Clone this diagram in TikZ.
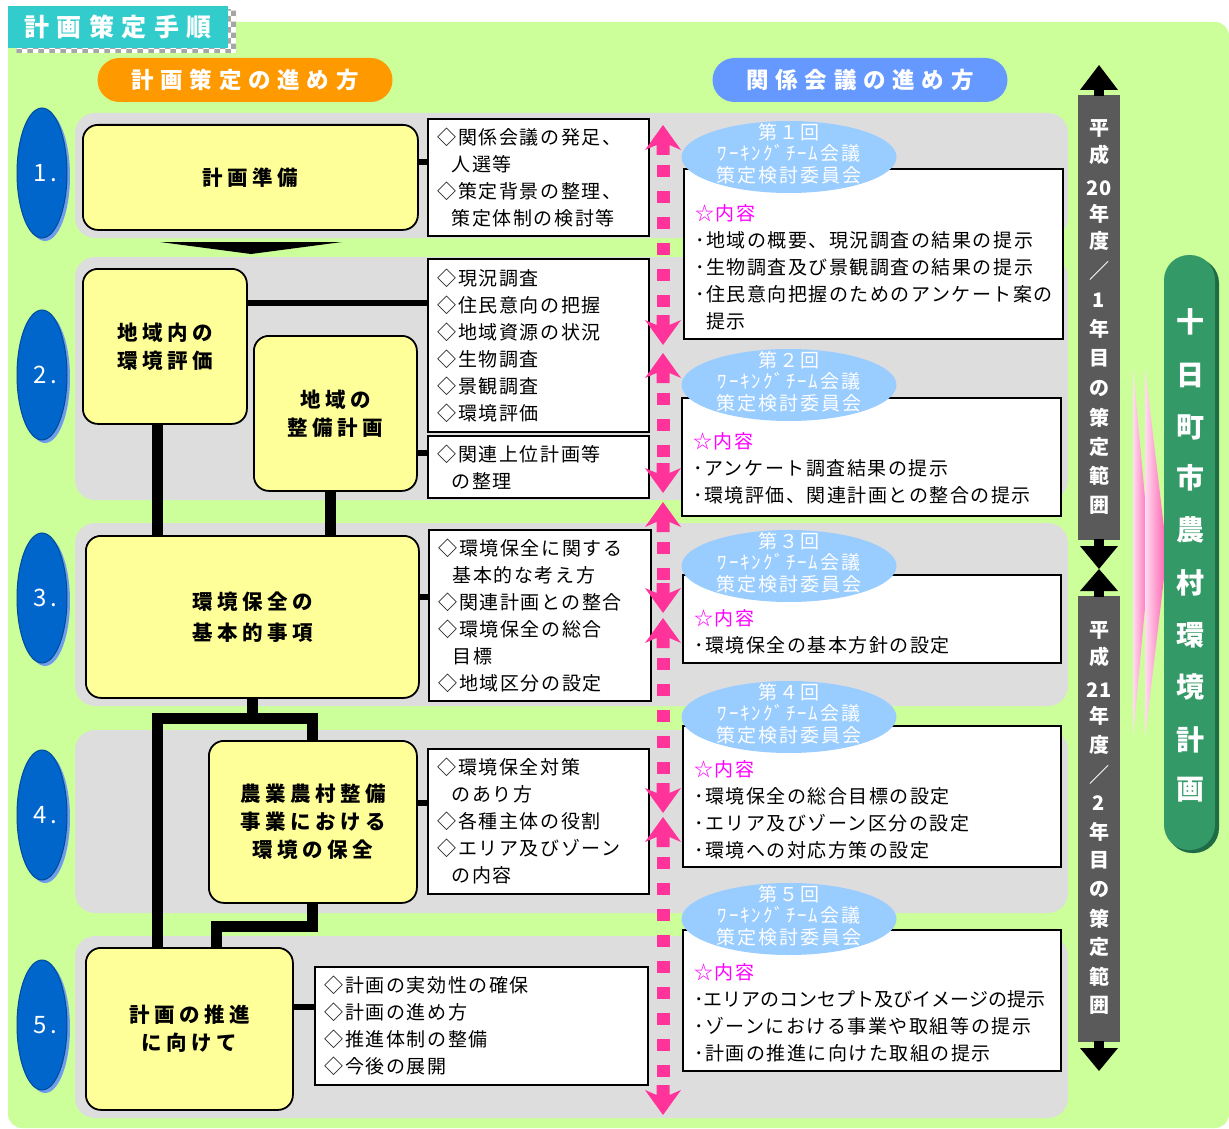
\documentclass[tikz,border=0pt]{standalone}
\usepackage{fontspec}
\usetikzlibrary{shapes.geometric,patterns,calc}
\newfontfamily\jp{Noto Sans CJK JP}
\newfontfamily\jpA{Noto Sans CJK JP}[LetterSpace=8]
\newfontfamily\jpE{Noto Sans CJK JP}[LetterSpace=10]
\newfontfamily\jpB{Noto Sans CJK JP}[LetterSpace=22]
\newfontfamily\jpC{Noto Sans CJK JP}[LetterSpace=30]
\definecolor{bggreen}{HTML}{CCFF99}
\definecolor{bandgrey}{HTML}{DDDDDD}
\definecolor{boxyellow}{HTML}{FFFF99}
\definecolor{tabteal}{HTML}{33CCCC}
\definecolor{pillorange}{HTML}{FF9900}
\definecolor{pillblue}{HTML}{6699FF}
\definecolor{ellblue}{HTML}{99CCFF}
\definecolor{dotpink}{HTML}{FF3399}
\definecolor{bardark}{HTML}{5A5A5A}
\definecolor{pillgreen}{HTML}{339966}
\definecolor{pillgreendk}{HTML}{1F6B45}
\definecolor{ovalblue}{HTML}{0066CC}
\definecolor{ovallight}{HTML}{6F9CEB}
\definecolor{starmag}{HTML}{FF00FF}
\definecolor{pinkA}{HTML}{FFDDF0}
\definecolor{pinkB}{HTML}{FF5AAD}
\newcommand\upheadpink[2]{\fill[dotpink] (#1,#2) -- ++(18,25) -- ++(-11.5,-5) -- ++(0,10) -- ++(-13,0) -- ++(0,-10) -- ++(-11.5,5) -- cycle;}
\newcommand\downheadpink[2]{\fill[dotpink] (#1,#2) -- ++(18,-25) -- ++(-11.5,5) -- ++(0,-10) -- ++(-13,0) -- ++(0,10) -- ++(-11.5,-5) -- cycle;}
\begin{document}
\begin{tikzpicture}[x=1pt,y=-1pt,
  band/.style={fill=bandgrey, rounded corners=20pt},
  yb/.style={draw=black, line width=1.8pt, fill=boxyellow, rounded corners=15pt, align=center, anchor=north west, inner sep=0pt, font=\jpB\bfseries\fontsize{20.5}{28}\selectfont},
  lb/.style={draw=black, line width=1.8pt, fill=white, align=left, anchor=north west, inner xsep=10pt, inner ysep=0pt, font=\jpA\fontsize{19}{27}\selectfont},
  mb/.style={draw=black, line width=1.8pt, fill=white, anchor=north west, inner sep=0pt},
  mt/.style={anchor=west, align=left, inner sep=0pt, font=\jpA\fontsize{19}{27}\selectfont},
  ell/.style={ellipse, fill=ellblue, minimum width=215pt, minimum height=72pt, inner sep=0pt},
  et/.style={align=center, inner sep=0pt, text=white, font=\jpE\fontsize{19}{21.5}\selectfont},
  oval/.style={ellipse, minimum width=50pt, minimum height=130pt, fill=ovalblue, draw=ovalblue!75!black, line width=1pt, text=white, inner sep=0pt, font=\jp\fontsize{24}{24}\selectfont},
  pill/.style={rounded corners=22pt, minimum width=295pt, minimum height=44pt, inner sep=0pt, text=white, font=\jpC\bfseries\fontsize{22.5}{22}\selectfont},
  bus/.style={draw=black, line width=11pt, line join=miter},
  stub/.style={draw=black, line width=6.5pt},
  dotline/.style={draw=dotpink, line width=13pt, dash pattern=on 12pt off 14pt},
  vtxt/.style={inner sep=0pt, text=white, font=\jp\bfseries\fontsize{20}{20}\selectfont},
  gtxt/.style={inner sep=0pt, text=white, font=\jp\bfseries\fontsize{28}{28}\selectfont}
]
\useasboundingbox (0,0) rectangle (1229,1129);
\fill[white] (0,0) rectangle (1229,1129);
% background
\fill[bggreen, rounded corners=14pt] (8,22) rectangle (1229,1128);
% title tab
\fill[white] (16,10) rectangle (236,53);
\fill[pattern=checkerboard, pattern color=gray!70] (16,10) rectangle (236,53);
\node[fill=tabteal, minimum width=220pt, minimum height=42pt, anchor=north west, inner sep=0pt, text=white, font=\jpC\bfseries\fontsize{25}{25}\selectfont] (tab) at (8,6) {計画策定手順};
% header pills
\node[pill, fill=pillorange] (p1) at (245,80) {計画策定の進め方};
\node[pill, fill=pillblue] (p2) at (860,80) {関係会議の進め方};
% bands
\path[band] (75,113) rectangle (1068,238);
\path[band] (75,257) rectangle (1068,500);
\path[band] (75,523) rectangle (1068,706);
\path[band] (75,730) rectangle (1068,913);
\path[band] (75,936) rectangle (1068,1118);
% step ovals
\foreach \n/\yy in {1/173,2/375,3/598,4/815,5/1025}{
  \fill[ovallight] (45,\yy+3) ellipse [x radius=25pt, y radius=65pt];
  \node[oval] (o\n) at (42,\yy) {\hspace*{6pt}\n\hspace{4pt}.};
}
% yellow boxes
\node[yb, minimum width=335pt, minimum height=105pt] (Y1) at (82,124) {計画準備};
\node[yb, minimum width=164pt, minimum height=155pt] (Y2) at (82,268) {地域内の\\環境評価};
\node[yb, minimum width=163pt, minimum height=155pt] (Y3) at (253,335) {地域の\\整備計画};
\node[yb, minimum width=333pt, minimum height=162pt] (Y4) at (85,535) {環境保全の\\[3pt]基本的事項};
\node[yb, minimum width=208pt, minimum height=162pt] (Y5) at (208,740) {農業農村整備\\事業における\\環境の保全};
\node[yb, minimum width=207pt, minimum height=162pt] (Y6) at (85,947) {計画の推進\\に向けて};
\fill (160,242) -- (342,242) -- (251,254) -- cycle;
% list boxes
\node[lb, text width=201pt, minimum height=117pt] (L1) at (427,118) {◇関係会議の発足、\\\hspace*{14pt}人選等\\◇策定背景の整理、\\\hspace*{14pt}策定体制の検討等};
\node[lb, text width=201pt, minimum height=173pt] (L2) at (427,258) {◇現況調査\\◇住民意向の把握\\◇地域資源の状況\\◇生物調査\\◇景観調査\\◇環境評価};
\node[lb, text width=201pt, minimum height=62pt] (L3) at (427,435) {◇関連上位計画等\\\hspace*{14pt}の整理};
\node[lb, text width=202pt, minimum height=171pt] (L4) at (428,529) {◇環境保全に関する\\\hspace*{14pt}基本的な考え方\\◇関連計画との整合\\◇環境保全の総合\\\hspace*{14pt}目標\\◇地域区分の設定};
\node[lb, text width=201pt, minimum height=145pt] (L5) at (427,748) {◇環境保全対策\\\hspace*{14pt}のあり方\\◇各種主体の役割\\◇エリア及びゾーン\\\hspace*{14pt}の内容};
\node[lb, text width=313pt, minimum height=118pt] (L6) at (314,966) {◇計画の実効性の確保\\◇計画の進め方\\◇推進体制の整備\\◇今後の展開};
% connectors
\coordinate (cx1) at (157,0);
\coordinate (cx2) at (330,0);
\coordinate (cx3) at (216,0);
\coordinate (jy) at (0,718);
\coordinate (jy2) at (0,926);
\draw[bus] (Y2.south -| cx1) -- (Y4.north -| cx1);
\draw[bus] (Y3.south -| cx2) -- (Y4.north -| cx2);
\draw[bus] (Y4.south) -- (Y4.south |- jy);
\draw[bus] (Y6.north -| cx1) |- (Y5.north |- jy) -- (Y5.north);
\draw[bus] (Y5.south) |- (cx3 |- jy2) -- (Y6.north -| cx3);
\coordinate (sy1) at (0,162);
\coordinate (sy2) at (0,303);
\coordinate (sy3) at (0,453);
\coordinate (sy4) at (0,597);
\coordinate (sy5) at (0,803);
\coordinate (sy6) at (0,1007);
\draw[stub] (Y1.east |- sy1) -- (L1.west |- sy1);
\draw[stub] (Y2.east |- sy2) -- (L2.west |- sy2);
\draw[stub] (Y3.east |- sy3) -- (L3.west |- sy3);
\draw[stub] (Y4.east |- sy4) -- (L4.west |- sy4);
\draw[stub] (Y5.east |- sy5) -- (L5.west |- sy5);
\draw[stub] (Y6.east |- sy6) -- (L6.west |- sy6);
% pink dotted double arrows
\foreach \a/\b in {125/345,353/493,502/613,618/813,817/1115}{
  \upheadpink{663}{\a}
  \downheadpink{663}{\b}
  \draw[dotline] (663,{\a+40}) -- (663,{\b-30});
}
% meeting boxes
\node[mb, minimum width=379pt, minimum height=170pt] (M1) at (683,168) {};
\node[mb, minimum width=379pt, minimum height=118pt] (M2) at (681,397) {};
\node[mb, minimum width=378pt, minimum height=88pt] (M3) at (682,574) {};
\node[mb, minimum width=378pt, minimum height=141pt] (M4) at (682,725) {};
\node[mb, minimum width=378pt, minimum height=141pt] (M5) at (682,929) {};
\node[mt] (M1t) at (695,267) {{\color{starmag}☆内容}\\･地域の概要、現況調査の結果の提示\\･生物調査及び景観調査の結果の提示\\･住民意向把握のためのアンケート案の\\\hspace*{11pt}提示};
\node[mt] (M2t) at (693,468.5) {{\color{starmag}☆内容}\\･アンケート調査結果の提示\\･環境評価、関連計画との整合の提示};
\node[mt] (M3t) at (694,631.5) {{\color{starmag}☆内容}\\･環境保全の基本方針の設定};
\node[mt] (M4t) at (694,810) {{\color{starmag}☆内容}\\･環境保全の総合目標の設定\\･エリア及びゾーン区分の設定\\･環境への対応方策の設定};
\node[mt] (M5t) at (694,1013) {{\color{starmag}☆内容}\\{\jp ･エリアのコンセプト及びイメージの提示}\\･ゾーンにおける事業や取組等の提示\\･計画の推進に向けた取組の提示};
% meeting ellipses
\foreach \n/\yy/\k in {1/157/１,2/385/２,3/566/３,4/717/４,5/919/５}{
  \node[ell] (E\n) at (789,\yy) {};
  \node[et] (E\n t) at (789,\yy-3.5) {第\k 回\\ﾜｰｷﾝｸﾞﾁｰﾑ会議\\策定検討委員会};
}
% right vertical bars
\fill[bardark] (1078,95) rectangle (1120,540);
\fill[bardark] (1078,596) rectangle (1120,1042);
\fill (1099,65) -- (1080,90) -- (1118,90) -- cycle;
\fill (1094,89) rectangle (1104,96);
\fill (1094,539) rectangle (1104,547);
\fill (1080,546) -- (1118,546) -- (1099,569) -- cycle;
\fill (1099,569) -- (1080,591) -- (1118,591) -- cycle;
\fill (1094,590) rectangle (1104,597);
\fill (1094,1041) rectangle (1104,1049);
\fill (1080,1048) -- (1118,1048) -- (1099,1071) -- cycle;
\foreach \c/\yy [count=\i] in {平/128,成/155,20/188,年/214,度/241,／/271,1/300,年/329,目/358,の/388,策/418,定/447,範/476,囲/505}{
  \node[vtxt] (va\i) at (1099,\yy) {\c};
}
\foreach \c/\yy [count=\i] in {平/630,成/657,21/690,年/716,度/745,／/775,2/803,年/832,目/860,の/889,策/919,定/947,範/977,囲/1005}{
  \node[vtxt] (vb\i) at (1099,\yy) {\c};
}
% pink chevron
\shade[left color=pinkA, right color=pinkB] (1133,367) -- (1150,553) -- (1133,738) -- cycle;
\shade[left color=pinkA, right color=pinkB] (1145,367) -- (1167,553) -- (1145,738) -- cycle;
% green pill
\fill[pillgreendk, rounded corners=25pt] (1167,258) rectangle (1219,853);
\fill[pillgreen, rounded corners=25pt] (1164,255) rectangle (1215,850);
\foreach \c/\yy [count=\i] in {十/322,日/375,町/427,市/478,農/530,村/583,環/635,境/687,計/740,画/790}{
  \node[gtxt] (g\i) at (1190,\yy) {\c};
}
\end{tikzpicture}
\end{document}
